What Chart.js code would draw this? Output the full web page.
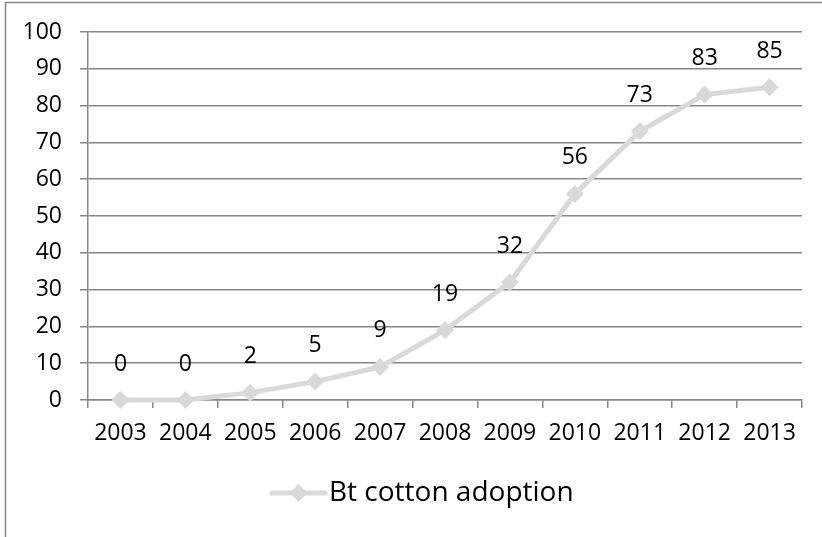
<!DOCTYPE html>
<html>
<head>
<meta charset="utf-8">
<script src="https://cdn.jsdelivr.net/npm/chart.js@4.4.1/dist/chart.umd.min.js"></script>
<style>
  html, body { margin: 0; padding: 0; background: #ffffff; }
  #wrap { width: 822px; height: 537px; position: relative; }
</style>
</head>
<body>
<div id="wrap"><canvas id="chart" width="822" height="537"></canvas></div>
<script>
// Bt cotton adoption share by year
const years = ['2003', '2004', '2005', '2006', '2007', '2008', '2009', '2010', '2011', '2012', '2013'];
const adoption = [0, 0, 2, 5, 9, 19, 32, 56, 73, 83, 85];
const yTicks = [0, 10, 20, 30, 40, 50, 60, 70, 80, 90, 100];
const seriesName = 'Bt cotton adoption';

const FONT = '"Open Sans", Lato, sans-serif';
const FONT_SIZE = 23;
const LEGEND_FONT_SIZE = 28;
const LINE_COLOR = '#d9d9d9';
const GRID_COLOR = '#878787';

// Outer frame around the whole chart
const framePlugin = {
  id: 'frame',
  beforeDraw(chart) {
    const ctx = chart.ctx;
    ctx.save();
    ctx.fillStyle = '#ffffff';
    ctx.fillRect(0, 0, chart.width, chart.height);
    ctx.strokeStyle = GRID_COLOR;
    ctx.lineWidth = 1.5;
    ctx.strokeRect(5.5, 2.5, chart.width + 20, chart.height + 20);
    ctx.restore();
  }
};

// Value labels above each point
const valueLabels = {
  id: 'valueLabels',
  afterDatasetsDraw(chart) {
    const ctx = chart.ctx;
    const meta = chart.getDatasetMeta(0);
    const data = chart.data.datasets[0].data;
    ctx.save();
    ctx.fillStyle = '#000000';
    ctx.font = FONT_SIZE + 'px ' + FONT;
    ctx.textAlign = 'center';
    ctx.textBaseline = 'middle';
    meta.data.forEach((pt, i) => {
      ctx.fillText(String(data[i]), pt.x, pt.y - 36);
    });
    ctx.restore();
  }
};

// Legend drawn beneath the axis: line with diamond marker, then series name
const bottomLegend = {
  id: 'bottomLegend',
  afterDraw(chart) {
    const ctx = chart.ctx;
    const ds = chart.data.datasets[0];
    const cy = 493;
    const x0 = 272, x1 = 325;
    ctx.save();
    ctx.strokeStyle = ds.borderColor;
    ctx.lineWidth = 5;
    ctx.lineCap = 'round';
    ctx.beginPath();
    ctx.moveTo(x0, cy);
    ctx.lineTo(x1, cy);
    ctx.stroke();
    const mx = (x0 + x1) / 2, r = 9;
    ctx.fillStyle = ds.pointBackgroundColor;
    ctx.beginPath();
    ctx.moveTo(mx - r, cy);
    ctx.lineTo(mx, cy - r);
    ctx.lineTo(mx + r, cy);
    ctx.lineTo(mx, cy + r);
    ctx.closePath();
    ctx.fill();
    ctx.fillStyle = '#000000';
    ctx.font = LEGEND_FONT_SIZE + 'px ' + FONT;
    ctx.textAlign = 'left';
    ctx.textBaseline = 'middle';
    ctx.fillText(ds.label, 329, cy);
    ctx.restore();
  }
};

new Chart(document.getElementById('chart'), {
  type: 'line',
  data: {
    labels: years,
    datasets: [{
      label: seriesName,
      data: adoption,
      borderColor: LINE_COLOR,
      backgroundColor: LINE_COLOR,
      borderWidth: 5,
      pointStyle: 'rectRot',
      pointRadius: 9,
      pointHoverRadius: 9,
      pointBackgroundColor: LINE_COLOR,
      pointBorderColor: LINE_COLOR,
      pointBorderWidth: 0,
      tension: 0,
      clip: false
    }]
  },
  options: {
    responsive: false,
    animation: false,
    events: [],
    layout: { padding: { left: 0, right: 20, top: 32, bottom: 0 } },
    plugins: {
      legend: { display: false },
      tooltip: { enabled: false }
    },
    scales: {
      x: {
        type: 'category',
        offset: true,
        grid: {
          offset: true,
          drawOnChartArea: false,
          drawTicks: true,
          tickLength: 8,
          color: GRID_COLOR,
          lineWidth: 1.5
        },
        border: { display: true, color: GRID_COLOR, width: 1.5 },
        ticks: {
          color: '#000000',
          font: { family: FONT, size: FONT_SIZE },
          padding: 12,
          maxRotation: 0,
          autoSkip: false
        },
        afterFit(scale) { scale.height = 137; }
      },
      y: {
        min: 0,
        max: 100,
        afterBuildTicks(scale) { scale.ticks = yTicks.map(v => ({ value: v })); },
        grid: {
          drawOnChartArea: true,
          drawTicks: true,
          tickLength: 8,
          color: GRID_COLOR,
          lineWidth: 1.5
        },
        border: { display: true, color: GRID_COLOR, width: 1.5 },
        ticks: {
          color: '#000000',
          font: { family: FONT, size: FONT_SIZE },
          padding: 18
        },
        afterFit(scale) { scale.width = 88; }
      }
    }
  },
  plugins: [framePlugin, valueLabels, bottomLegend]
});
</script>
</body>
</html>
